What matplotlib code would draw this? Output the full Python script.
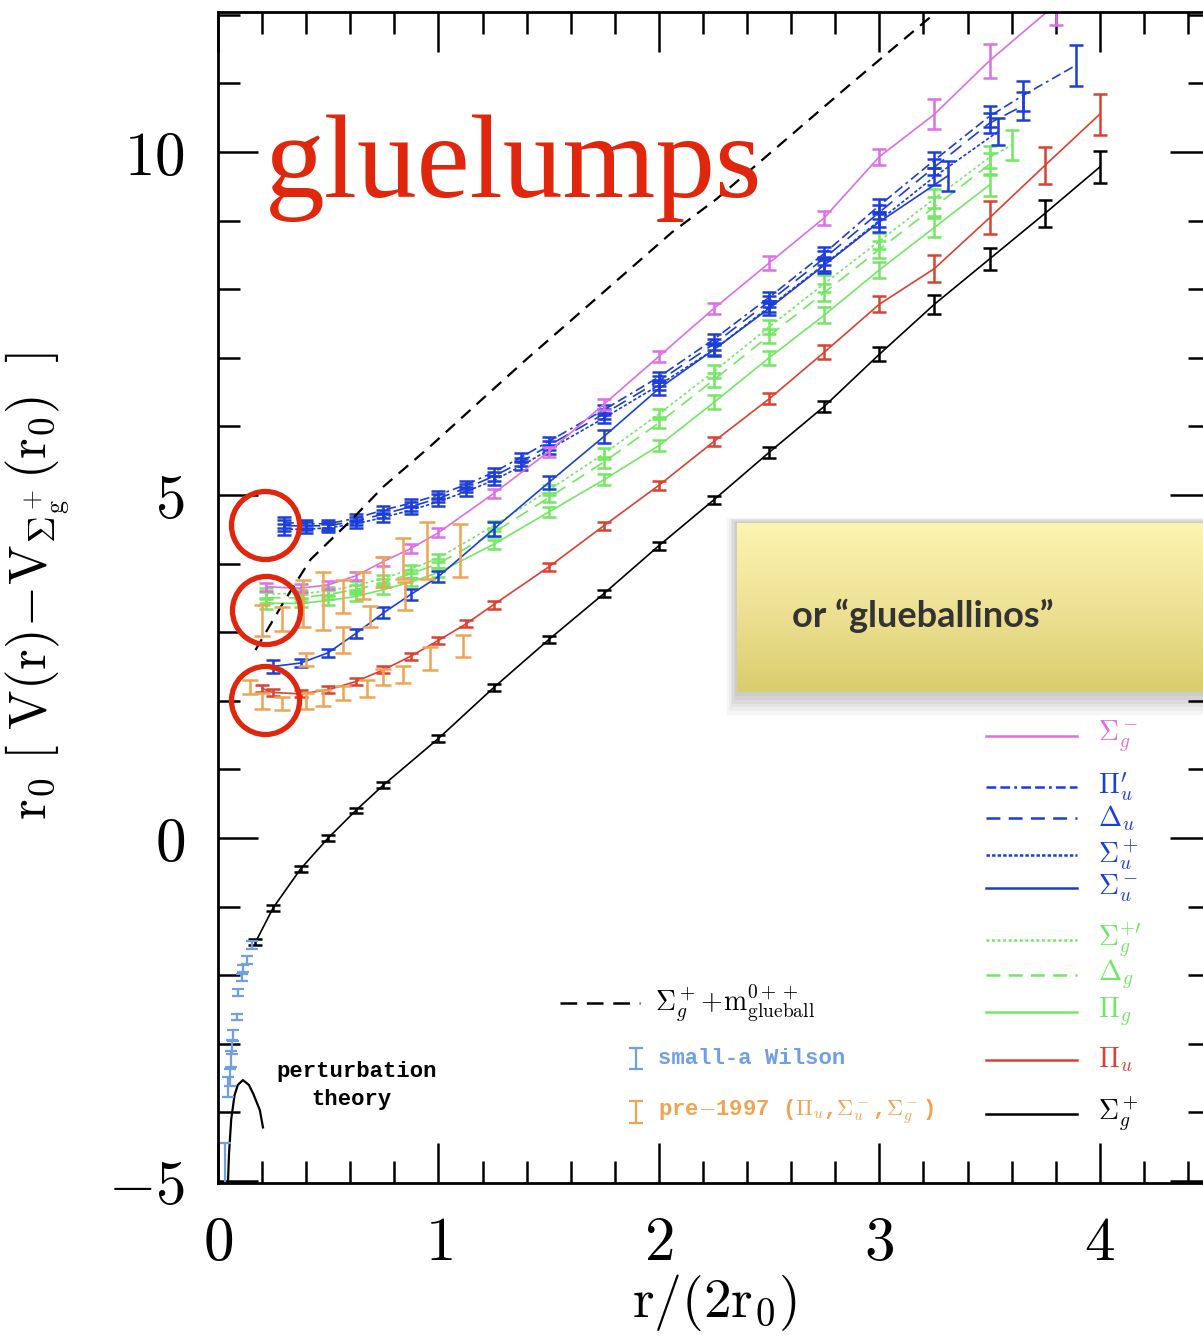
import numpy as np
import matplotlib.pyplot as plt
from matplotlib.lines import Line2D
from matplotlib.patches import Rectangle
from matplotlib.colors import LinearSegmentedColormap
from matplotlib.ticker import MultipleLocator, FuncFormatter

plt.rcParams['mathtext.fontset'] = 'cm'
plt.rcParams['lines.scale_dashes'] = False

# ---- values: x = r/(2r0), y = r0[V(r)-V(r0)] ----
# Sigma_g^+ (ground state, black)
sgp_x = [0.17, 0.25, 0.375, 0.5, 0.625, 0.75, 1.0, 1.25, 1.5, 1.75, 2.0, 2.25, 2.5, 2.75, 3.0, 3.25, 3.5, 3.75, 4.0]
sgp_y = [-1.52, -1.02, -0.45, 0.0, 0.4, 0.77, 1.45, 2.19, 2.89, 3.56, 4.26, 4.93, 5.62, 6.29, 7.05, 7.78, 8.44, 9.1, 9.78]
sgp_e = [0.04, 0.04, 0.04, 0.04, 0.04, 0.04, 0.05, 0.05, 0.05, 0.05, 0.06, 0.06, 0.08, 0.08, 0.1, 0.14, 0.16, 0.2, 0.24]

# Pi_u (red)
pu_x = [0.2, 0.25, 0.375, 0.5, 0.625, 0.75, 0.875, 1.0, 1.125, 1.25, 1.5, 1.75, 2.0, 2.25, 2.5, 2.75, 3.0, 3.25, 3.5, 3.75, 4.0]
pu_y = [2.18, 2.12, 2.1, 2.16, 2.28, 2.45, 2.65, 2.88, 3.12, 3.4, 3.95, 4.55, 5.14, 5.78, 6.4, 7.08, 7.78, 8.3, 9.04, 9.8, 10.55]
pu_e = [0.05, 0.05, 0.05, 0.05, 0.05, 0.05, 0.05, 0.05, 0.05, 0.06, 0.06, 0.06, 0.07, 0.07, 0.08, 0.1, 0.12, 0.2, 0.24, 0.27, 0.3]

# Sigma_g^- (magenta)
sgm_x = [0.22, 0.375, 0.5, 0.625, 0.75, 0.875, 1.0, 1.25, 1.5, 1.75, 2.0, 2.25, 2.5, 2.75, 3.0, 3.25, 3.5, 3.8]
sgm_y = [3.66, 3.64, 3.69, 3.82, 4.03, 4.22, 4.45, 5.02, 5.63, 6.32, 7.02, 7.72, 8.38, 9.04, 9.93, 10.55, 11.33, 12.15]
sgm_e = [0.06, 0.06, 0.06, 0.06, 0.06, 0.06, 0.07, 0.07, 0.07, 0.08, 0.08, 0.08, 0.1, 0.1, 0.12, 0.22, 0.25, 0.3]

# blue group
piu2_x = [0.3, 0.4, 0.5, 0.625, 0.75, 0.875, 1.0, 1.125, 1.25, 1.375, 1.5, 1.75, 2.0, 2.25, 2.5, 2.75, 3.0, 3.25, 3.5, 3.65, 3.89]
piu2_y = [4.6, 4.58, 4.58, 4.66, 4.78, 4.88, 5.0, 5.15, 5.33, 5.55, 5.78, 6.24, 6.72, 7.27, 7.88, 8.52, 9.22, 9.88, 10.52, 10.82, 11.26]
piu2_e = [0.08, 0.06, 0.06, 0.06, 0.06, 0.06, 0.06, 0.06, 0.06, 0.06, 0.07, 0.07, 0.07, 0.08, 0.08, 0.1, 0.1, 0.12, 0.15, 0.22, 0.3]

du_x = [0.3, 0.4, 0.5, 0.625, 0.75, 0.875, 1.0, 1.125, 1.25, 1.375, 1.5, 1.75, 2.0, 2.25, 2.5, 2.75, 3.0, 3.25, 3.5, 3.65]
du_y = [4.55, 4.55, 4.55, 4.62, 4.72, 4.83, 4.95, 5.1, 5.27, 5.48, 5.72, 6.18, 6.66, 7.2, 7.82, 8.45, 9.12, 9.78, 10.42, 10.67]
du_e = [0.08, 0.06, 0.06, 0.06, 0.06, 0.06, 0.06, 0.06, 0.06, 0.06, 0.07, 0.07, 0.07, 0.08, 0.08, 0.1, 0.1, 0.12, 0.15, 0.2]

sup_x = [0.3, 0.4, 0.5, 0.625, 0.75, 0.875, 1.0, 1.125, 1.25, 1.375, 1.5, 1.75, 2.0, 2.25, 2.5, 2.75, 3.0, 3.25, 3.54]
sup_y = [4.5, 4.5, 4.52, 4.58, 4.67, 4.78, 4.9, 5.05, 5.21, 5.42, 5.66, 6.12, 6.6, 7.12, 7.74, 8.36, 9.0, 9.64, 10.3]
sup_e = [0.08, 0.06, 0.06, 0.06, 0.06, 0.06, 0.06, 0.06, 0.06, 0.06, 0.07, 0.07, 0.07, 0.08, 0.08, 0.1, 0.1, 0.12, 0.2]

sum_x = [0.25, 0.375, 0.5, 0.625, 0.75, 0.875, 1.0, 1.25, 1.5, 1.75, 2.0, 2.25, 2.5, 2.75, 3.0, 3.31]
sum_y = [2.5, 2.55, 2.7, 2.98, 3.28, 3.55, 3.81, 4.5, 5.18, 5.85, 6.55, 7.12, 7.72, 8.35, 8.98, 9.65]
sum_e = [0.1, 0.06, 0.06, 0.06, 0.08, 0.08, 0.08, 0.1, 0.1, 0.1, 0.1, 0.1, 0.1, 0.12, 0.14, 0.22]

# green group
sgp2_x = [0.22, 0.375, 0.5, 0.625, 0.75, 0.875, 1.0, 1.25, 1.5, 1.75, 2.0, 2.25, 2.5, 2.75, 3.0, 3.25, 3.5, 3.6]
sgp2_y = [3.56, 3.56, 3.6, 3.68, 3.78, 3.92, 4.08, 4.55, 5.07, 5.6, 6.18, 6.8, 7.45, 8.08, 8.7, 9.32, 9.92, 10.1]
sgp2_e = [0.08, 0.06, 0.06, 0.06, 0.06, 0.06, 0.06, 0.07, 0.07, 0.08, 0.08, 0.1, 0.1, 0.12, 0.12, 0.14, 0.16, 0.22]

dg_x = [0.22, 0.375, 0.5, 0.625, 0.75, 0.875, 1.0, 1.25, 1.5, 1.75, 2.0, 2.25, 2.5, 2.75, 3.0, 3.25, 3.5]
dg_y = [3.5, 3.5, 3.55, 3.62, 3.72, 3.85, 4.0, 4.45, 4.96, 5.48, 6.05, 6.68, 7.32, 7.95, 8.58, 9.2, 9.82]
dg_e = [0.08, 0.06, 0.06, 0.06, 0.06, 0.06, 0.06, 0.07, 0.07, 0.08, 0.08, 0.1, 0.1, 0.12, 0.12, 0.14, 0.16]

pg_x = [0.22, 0.375, 0.5, 0.625, 0.75, 0.875, 1.0, 1.25, 1.5, 1.75, 2.0, 2.25, 2.5, 2.75, 3.0, 3.25, 3.5]
pg_y = [3.42, 3.42, 3.46, 3.52, 3.62, 3.73, 3.87, 4.28, 4.75, 5.22, 5.72, 6.35, 7.0, 7.62, 8.28, 8.9, 9.52]
pg_e = [0.08, 0.06, 0.06, 0.06, 0.06, 0.06, 0.06, 0.07, 0.07, 0.08, 0.08, 0.1, 0.1, 0.12, 0.12, 0.14, 0.16]

# Sigma_g^+ + m(0++ glueball), dashed
glue_x = [0.17, 0.3, 0.42, 0.6, 0.75, 0.96, 1.2, 1.4, 1.75, 2.06, 2.26, 2.46, 2.87, 3.17, 3.3]
glue_y = [2.74, 3.45, 4.06, 4.62, 5.12, 5.7, 6.4, 6.98, 7.96, 8.83, 9.31, 9.86, 10.99, 11.8, 12.15]

# perturbation theory curve
pert_x = [0.045, 0.05, 0.06, 0.075, 0.09, 0.113, 0.14, 0.16, 0.19, 0.204]
pert_y = [-5.05, -4.6, -4.1, -3.75, -3.6, -3.53, -3.6, -3.73, -3.97, -4.22]

# small-a Wilson points
wil_x = [0.154, 0.13, 0.115, 0.108, 0.09, 0.086, 0.07, 0.063, 0.06, 0.055, 0.047, 0.03]
wil_y = [-1.56, -1.78, -1.9, -2.03, -2.25, -2.61, -2.88, -3.05, -3.22, -3.49, -3.63, -4.75]
wil_e = [0.06, 0.06, 0.05, 0.05, 0.05, 0.05, 0.08, 0.1, 0.12, 0.12, 0.15, 0.3]

# pre-1997 points (Pi_u, Sigma_u^-, Sigma_g^-)
old_x = [0.145, 0.2, 0.29, 0.40, 0.476, 0.567, 0.675, 0.75, 0.84, 0.96, 1.11,
         0.2, 0.29, 0.40, 0.567, 0.69, 0.85,
         0.386, 0.476, 0.567, 0.658, 0.75, 0.84, 0.95, 1.1]
old_y = [2.2, 2.0, 1.96, 2.0, 2.04, 2.11, 2.18, 2.35, 2.38, 2.62, 2.8,
         3.17, 3.19, 2.6, 2.89, 3.23, 3.53,
         3.42, 3.45, 3.52, 3.68, 3.88, 4.07, 4.19, 4.19]
old_e = [0.1, 0.12, 0.1, 0.12, 0.12, 0.1, 0.12, 0.12, 0.12, 0.17, 0.16,
         0.23, 0.18, 0.1, 0.19, 0.15, 0.2,
         0.34, 0.42, 0.24, 0.2, 0.22, 0.3, 0.42, 0.39]

# circled gluelump limits
circ_x = [0.213, 0.218, 0.213]
circ_y = [4.56, 3.32, 2.01]

magenta = '#dc6ee6'
blue = '#1c3ed8'
green = '#72e862'
red = '#dc4030'
orange = '#f0a452'
lblue = '#6f9fe6'
annot_red = '#e0260c'

fig = plt.figure(figsize=(12.03, 13.42), dpi=100)
ax = fig.add_axes([218 / 1203, 159 / 1342, 992 / 1203, 1171 / 1342])

solid = None
series = [
    (sgp_x, sgp_y, sgp_e, 'black', solid),
    (pu_x, pu_y, pu_e, red, solid),
    (pg_x, pg_y, pg_e, green, solid),
    (dg_x, dg_y, dg_e, green, (10, 6)),
    (sgp2_x, sgp2_y, sgp2_e, green, (2, 2)),
    (sum_x, sum_y, sum_e, blue, solid),
    (sup_x, sup_y, sup_e, blue, (2.5, 1.5)),
    (du_x, du_y, du_e, blue, (10, 6)),
    (piu2_x, piu2_y, piu2_e, blue, (7, 3, 7, 3, 2, 3)),
    (sgm_x, sgm_y, sgm_e, magenta, solid),
]
for x, y, e, c, d in series:
    ln, = ax.plot(x, y, color=c, lw=1.2)
    if d is not None:
        ln.set_dashes(d)
    ax.errorbar(x, y, yerr=e, fmt='none', ecolor=c, elinewidth=1.8, capsize=5, capthick=1.8)

gl, = ax.plot(glue_x, glue_y, color='black', lw=1.6)
gl.set_dashes((9, 6))
ax.plot(pert_x, pert_y, color='black', lw=1.6)
ax.errorbar(wil_x, wil_y, yerr=wil_e, fmt='none', ecolor=lblue, elinewidth=1.6, capsize=4, capthick=1.6)
ax.errorbar(old_x, old_y, yerr=old_e, fmt='none', ecolor=orange, elinewidth=1.8, capsize=6, capthick=1.8)

ax.plot(circ_x, circ_y, 'o', ms=49, mfc='none', mec=annot_red, mew=3.8, zorder=10, clip_on=False)

ax.set_xlim(0, 4.5)
ax.set_ylim(-5.03, 12.04)
ax.xaxis.set_major_locator(MultipleLocator(1))
ax.xaxis.set_minor_locator(MultipleLocator(0.2))
ax.yaxis.set_major_locator(MultipleLocator(5))
ax.yaxis.set_minor_locator(MultipleLocator(1))
ax.xaxis.set_major_formatter(FuncFormatter(lambda v, p: f'${v:.0f}$'))
ax.yaxis.set_major_formatter(FuncFormatter(lambda v, p: f'${v:.0f}$'))
ax.tick_params(which='both', direction='in', top=True, right=True, width=1.8)
ax.tick_params(which='major', length=29, labelsize=44)
ax.tick_params(axis='x', which='major', pad=22)
ax.tick_params(axis='y', which='major', pad=24)
ax.tick_params(which='minor', length=16)
for s in ax.spines.values():
    s.set_linewidth(2)

ax.set_xlabel(r'$\mathrm{r/(2r_0)}$', fontsize=40)
ax.xaxis.set_label_coords(0.5, -0.076)
ax.xaxis.label.set_va('top')
ax.set_ylabel(r'$\mathrm{r_0\ [\ V(r)\!-\!V_{\Sigma_g^+}(r_0)\ \ ]}$', fontsize=38)
ax.yaxis.set_label_coords(-0.147, 0.51)

# legend on the right, drawn by hand
legend_rows = [
    (r'$\Sigma_g^-$', magenta, None, 0.3817),
    (r"$\Pi_u'$", blue, (7, 3, 7, 3, 2, 3), 0.3382),
    (r'$\Delta_u$', blue, (10, 6), 0.3117),
    (r'$\Sigma_u^+$', blue, (2.5, 1.5), 0.2801),
    (r'$\Sigma_u^-$', blue, None, 0.2519),
    (r"$\Sigma_g^{+\prime}$", green, (2, 2), 0.2075),
    (r'$\Delta_g$', green, (10, 6), 0.1776),
    (r'$\Pi_g$', green, None, 0.1460),
    (r'$\Pi_u$', red, None, 0.1050),
    (r'$\Sigma_g^+$', 'black', None, 0.0589),
]
for lab, c, d, yy in legend_rows:
    ln = Line2D([0.774, 0.866], [yy, yy], color=c, lw=1.8, transform=ax.transAxes)
    if d is not None:
        ln.set_dashes(d)
    ax.add_line(ln)
    ax.text(0.887, yy, lab, color=c, fontsize=20, va='center', ha='left', transform=ax.transAxes)

# legend at the bottom middle
ln = Line2D([0.345, 0.425], [0.1537, 0.1537], color='black', lw=1.8, transform=ax.transAxes)
ln.set_dashes((12, 7))
ax.add_line(ln)
ax.text(0.4405, 0.1537, r'$\Sigma_g^+\!+\!\mathrm{m}^{0++}_{\mathrm{glueball}}$', fontsize=20,
        va='center', ha='left', transform=ax.transAxes)
ax.errorbar([0.421], [0.1067], yerr=[0.009], fmt='none', ecolor=lblue, elinewidth=1.6,
            capsize=5, capthick=1.6, transform=ax.transAxes, clip_on=False)
ax.text(0.4435, 0.1067, 'small-a Wilson', color=lblue, fontsize=16, family='Liberation Mono',
        weight='bold', va='center', ha='left', transform=ax.transAxes)
ax.errorbar([0.421], [0.0606], yerr=[0.009], fmt='none', ecolor=orange, elinewidth=1.6,
            capsize=5, capthick=1.6, transform=ax.transAxes, clip_on=False)
ax.text(0.4435, 0.0606, r'pre$-$1997 ($\Pi_u$,$\Sigma_u^-$,$\Sigma_g^-$)', color=orange, fontsize=16,
        family='Liberation Mono', weight='bold', va='center', ha='left', transform=ax.transAxes)
ax.text(0.140, 0.0948, 'perturbation', fontsize=16, family='Liberation Mono', weight='bold',
        va='center', ha='center', transform=ax.transAxes)
ax.text(0.134, 0.0709, 'theory', fontsize=16, family='Liberation Mono', weight='bold',
        va='center', ha='center', transform=ax.transAxes)

# big red title
fig.text(265 / 1203, (1342 - 197) / 1342, 'gluelumps', color=annot_red, fontsize=86,
         family='Liberation Serif', va='baseline', ha='left', zorder=5)

# sticky note with soft shadow
nl, nb, nw, nh = 737 / 1203, (1342 - 692) / 1342, 0.40, 169 / 1342
for k in range(6):
    g = (k + 1) * 0.0022
    fig.patches.append(Rectangle((nl - g * 0.6, nb - g * 1.3), nw + 2 * g, nh + g * 1.6,
                                 transform=fig.transFigure, facecolor='black',
                                 alpha=0.035, edgecolor='none', zorder=2))
nax = fig.add_axes([nl, nb, nw, nh], zorder=3)
note_cmap = LinearSegmentedColormap.from_list('note', ['#dacd6c', '#eee195', '#fcf5b0'])
nax.imshow(np.linspace(0, 1, 256).reshape(-1, 1), cmap=note_cmap, aspect='auto',
           origin='lower', extent=[0, 1, 0, 1])
nax.axis('off')
nax.text(55 / (nw * 1203), 0.45, 'or \u201cglueballinos\u201d', fontsize=26, color='#333333',
         family='Lato', weight='bold', va='center', ha='left', transform=nax.transAxes)

fig.savefig('out.png', dpi=100)
